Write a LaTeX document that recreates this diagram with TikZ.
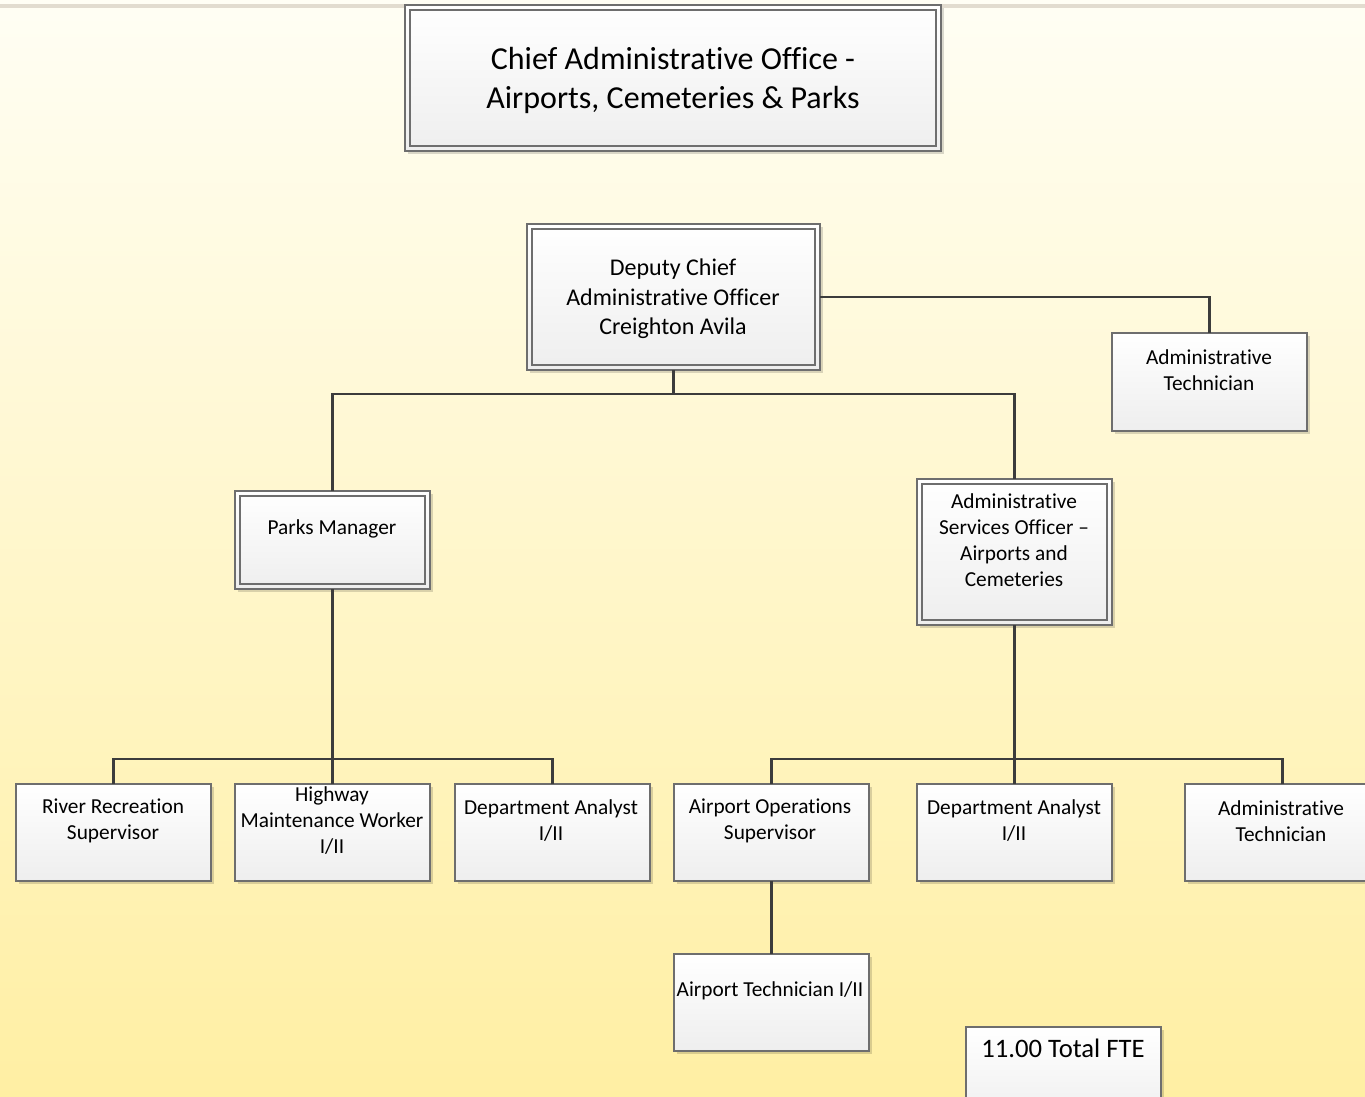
\documentclass[tikz,border=0pt]{standalone}
\usepackage{fontspec}
\setmainfont{Carlito}[Ligatures=NoCommon,RawFeature={-liga;-clig;-calt;-dlig}]
\usetikzlibrary{shadows,fit,calc}
\definecolor{bgtop}{HTML}{FFFEF4}
\definecolor{bgbot}{HTML}{FFEFA3}
\definecolor{stripe}{HTML}{E2DCCF}
\definecolor{boxline}{HTML}{6E6E6E}
\definecolor{connc}{HTML}{3C3C3C}
\definecolor{boxbot}{HTML}{EEEEEE}
\tikzset{
 orgbox/.style={draw=boxline, line width=0.8pt, top color=white, bottom color=boxbot, inner sep=0pt, outer sep=0pt,
   drop shadow={shadow xshift=2.5pt, shadow yshift=-2.5pt, fill=black, opacity=0.15}},
 innerline/.style={draw=boxline, line width=0.8pt},
 lbl/.style={align=center, inner sep=0pt, text=black},
 ftitle/.style={font=\fontsize{24}{29.3}\selectfont},
 fdep/.style={font=\fontsize{18}{22.1}\selectfont},
 fbx/.style={font=\fontsize{16}{19.5}\selectfont},
 ffte/.style={font=\fontsize{20}{24}\selectfont},
 conn/.style={draw=connc, line width=1.9pt}
}
\begin{document}
\begin{tikzpicture}[x=0.75pt,y=-0.75pt]
\useasboundingbox (0,0) rectangle (1365,1097);
\shade[top color=bgtop, bottom color=bgbot] (0,0) rectangle (1365,1097);
\fill[stripe] (0,4) rectangle (1365,8);

% boxes
\node[orgbox, fit={(405,5) (941,151)}] (top) {};
\draw[innerline] ($(top.north west)+(5,5)$) rectangle ($(top.south east)+(-5,-5)$);
\node[orgbox, fit={(527,224) (820,370)}] (dep) {};
\draw[innerline] ($(dep.north west)+(5,5)$) rectangle ($(dep.south east)+(-5,-5)$);
\node[orgbox, fit={(1112,333) (1307,431)}] (at1) {};
\node[orgbox, fit={(235,491) (430,589)}] (parks) {};
\draw[innerline] ($(parks.north west)+(5,5)$) rectangle ($(parks.south east)+(-5,-5)$);
\node[orgbox, fit={(917,479) (1112,625)}] (aso) {};
\draw[innerline] ($(aso.north west)+(5,5)$) rectangle ($(aso.south east)+(-5,-5)$);
\node[orgbox, fit={(16,784) (211,881)}] (rr) {};
\node[orgbox, fit={(235,784) (430,881)}] (hw) {};
\node[orgbox, fit={(455,784) (650,881)}] (da1) {};
\node[orgbox, fit={(674,784) (869,881)}] (ops) {};
\node[orgbox, fit={(917,784) (1112,881)}] (da2) {};
\node[orgbox, fit={(1185,784) (1380,881)}] (at2) {};
\node[orgbox, fit={(674,954) (869,1051)}] (apt) {};
\node[orgbox, fit={(966,1027) (1161,1124)}] (fte) {};

% labels
\node[lbl, ftitle] (t-top) at (673,80) {Chief Administrative Office -\\Airports, Cemeteries \& Parks};
\node[lbl, fdep] (t-dep) at (673,299) {Deputy Chief\\Administrative Officer\\Creighton Avila};
\node[lbl, fbx] (t-at1) at (1209,370) {Administrative\\Technician};
\node[lbl, fbx] (t-parks) at (332,529) {Parks Manager};
\node[lbl, fbx] (t-aso) at (1014,540) {Administrative\\Services Officer –\\Airports and\\Cemeteries};
\node[lbl, fbx] (t-rr) at (113,821) {River Recreation\\Supervisor};
\node[lbl, fbx] (t-hw) at (332,821) {Highway\\Maintenance Worker\\I/II};
\node[lbl, fbx] (t-da1) at (551,821) {Department Analyst\\I/II};
\node[lbl, fbx] (t-ops) at (770,821) {Airport Operations\\Supervisor};
\node[lbl, fbx] (t-da2) at (1014,821) {Department Analyst\\I/II};
\node[lbl, fbx] (t-at2) at (1281,821) {Administrative\\Technician};
\node[lbl, fbx] (t-apt) at (770,991) {Airport Technician I/II};
\node[lbl, ffte] (t-fte) at (1063,1048) {11.00 Total FTE};

% connectors
\coordinate (dj) at ($(dep.south)+(0,24)$);
\coordinate (pj) at ($(parks.south)+(0,170)$);
\coordinate (aj) at ($(aso.south)+(0,134)$);
\draw[conn] (dep.south) -- (dj);
\draw[conn] (dj) -| (parks.north);
\draw[conn] (dj) -| (aso.north);
\draw[conn] (dep.east) -| (at1.north);
\draw[conn] (parks.south) -- (hw.north);
\draw[conn] (pj) -| (rr.north);
\draw[conn] (pj) -| (da1.north);
\draw[conn] (aso.south) -- (da2.north);
\draw[conn] (aj) -| (ops.north);
\draw[conn] (aj) -| (at2.north);
\draw[conn] (ops.south) -- (apt.north);
\end{tikzpicture}
\end{document}
